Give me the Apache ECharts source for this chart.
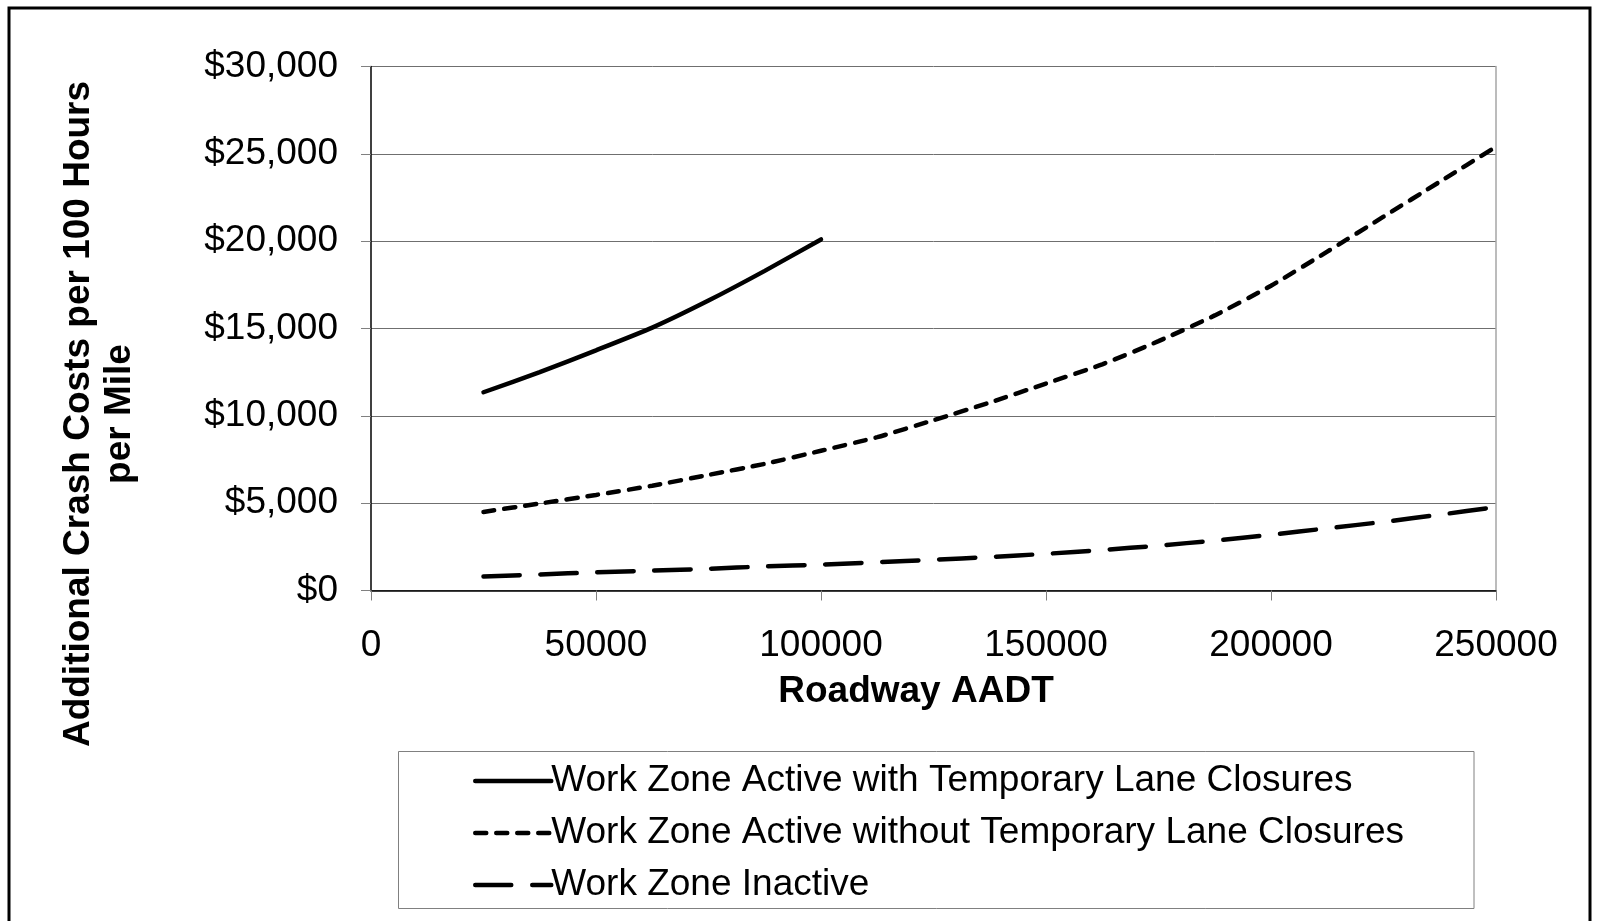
<!DOCTYPE html>
<html>
<head>
<meta charset="utf-8">
<title>Additional Crash Costs vs Roadway AADT</title>
<script src="https://cdn.jsdelivr.net/npm/echarts@6/dist/echarts.min.js"></script>
<style>
  html, body { margin: 0; padding: 0; background: #fff; }
  #chart { width: 1602px; height: 921px; }
</style>
</head>
<body>
<div id="chart"></div>
<script>
// roadway AADT values where each curve was read
const aadtActiveClosed = [25000, 37500, 50000, 62500, 75000, 87500, 100000]
const aadtFull = [25000, 37500, 50000, 62500, 75000, 87500, 100000, 112500, 125000, 137500,
  150000, 162500, 175000, 187500, 200000, 212500, 225000, 237500, 250000]

// additional crash costs ($ per 100 hours per mile)
const activeWithClosures = [11350, 12500, 13750, 15050, 16600, 18300, 20100]
const activeWithoutClosures = [4500, 4980, 5470, 6000, 6620, 7250, 8000, 8780, 9750, 10760,
  11850, 12950, 14275, 15750, 17450, 19400, 21400, 23400, 25400]
const inactive = [800, 920, 1040, 1140, 1240, 1380, 1480, 1620, 1760, 1920,
  2100, 2320, 2570, 2860, 3190, 3560, 3930, 4340, 4780]

const seriesNames = [
  'Work Zone Active with Temporary Lane Closures',
  'Work Zone Active without Temporary Lane Closures',
  'Work Zone Inactive'
]

const FONT = '"Liberation Sans", Arial, sans-serif'

const pairs = (xs, ys) => xs.map((x, i) => [x, ys[i]])

const chart = echarts.init(document.getElementById('chart'))

const option = {
  backgroundColor: '#fff',
  animation: false,
  textStyle: { fontFamily: FONT, color: '#000' },
  grid: { left: 371, right: 106, top: 66.5, bottom: 330.5, containLabel: false },
  legend: {
    orient: 'vertical',
    left: 473,
    top: 761,
    padding: 0,
    itemWidth: 76,
    itemHeight: 14,
    itemGap: 12,
    data: seriesNames,
    itemStyle: { opacity: 0 },
    lineStyle: { width: 4.5, cap: 'round' },
    textStyle: { fontFamily: FONT, fontSize: 37, color: '#000', lineHeight: 40, padding: [0, 0, 0, -5] }
  },
  xAxis: {
    type: 'value',
    min: 0,
    max: 250000,
    interval: 50000,
    axisLine: { lineStyle: { color: '#000', width: 1.5 } },
    axisTick: { show: true, length: 10, lineStyle: { color: '#808080' } },
    axisLabel: { fontSize: 37, color: '#000', margin: 37, fontFamily: FONT, formatter: v => String(v) },
    splitLine: { show: false }
  },
  yAxis: [
    {
      type: 'value',
      min: 0,
      max: 30000,
      interval: 5000,
      axisLine: { show: true, lineStyle: { color: '#000', width: 1.5 } },
      axisTick: { show: true, length: 10, lineStyle: { color: '#808080' } },
      axisLabel: {
        fontSize: 37,
        color: '#000',
        margin: 33,
        fontFamily: FONT,
        formatter: v => '$' + v.toLocaleString('en-US')
      },
      splitLine: { show: true, lineStyle: { color: '#6f6f6f', width: 1 } }
    },
    {
      // right edge of the plot area
      type: 'value',
      position: 'right',
      min: 0,
      max: 30000,
      interval: 5000,
      axisLine: { show: true, lineStyle: { color: '#a6a6a6', width: 1.5 } },
      axisTick: { show: false },
      axisLabel: { show: false },
      splitLine: { show: false }
    }
  ],
  series: [
    {
      name: seriesNames[0],
      type: 'line',
      symbol: 'none',
      smooth: 0.2,
      data: pairs(aadtActiveClosed, activeWithClosures),
      lineStyle: { color: '#000', width: 4.5, cap: 'round' },
      itemStyle: { color: '#000' }
    },
    {
      name: seriesNames[1],
      type: 'line',
      symbol: 'none',
      smooth: 0.2,
      data: pairs(aadtFull, activeWithoutClosures),
      lineStyle: { color: '#000', width: 4.5, type: [11, 10], cap: 'round' },
      itemStyle: { color: '#000' }
    },
    {
      name: seriesNames[2],
      type: 'line',
      symbol: 'none',
      smooth: 0.2,
      data: pairs(aadtFull, inactive),
      lineStyle: { color: '#000', width: 4.5, type: [36, 21], cap: 'round' },
      itemStyle: { color: '#000' }
    }
  ],
  graphic: [
    {
      type: 'rect',
      silent: true,
      z: -10,
      shape: { x: 9, y: 8, width: 1581, height: 940 },
      style: { fill: 'none', stroke: '#000', lineWidth: 3 }
    },
    {
      type: 'rect',
      silent: true,
      z: -5,
      shape: { x: 398.5, y: 751.5, width: 1075.5, height: 157 },
      style: { fill: '#fff', stroke: '#808080', lineWidth: 1 }
    },
    {
      type: 'text',
      x: 916,
      y: 692,
      style: {
        text: 'Roadway AADT',
        font: 'bold 37px ' + FONT,
        fill: '#000',
        align: 'center',
        verticalAlign: 'middle'
      }
    },
    {
      type: 'text',
      x: 99,
      y: 414,
      rotation: Math.PI / 2,
      style: {
        text: 'Additional Crash Costs per 100 Hours\nper Mile',
        font: 'bold 37px ' + FONT,
        lineHeight: 41,
        fill: '#000',
        align: 'center',
        verticalAlign: 'middle'
      }
    }
  ]
}

chart.setOption(option)
</script>
</body>
</html>
